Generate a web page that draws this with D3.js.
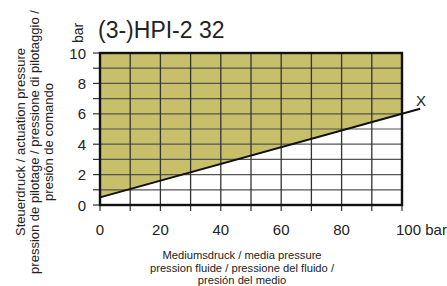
<!DOCTYPE html>
<html>
<head>
<meta charset="utf-8">
<script src="https://cdn.jsdelivr.net/npm/d3@7"></script>
<style>
  body { margin: 0; background: #fff; }
  text { font-family: "Liberation Sans", Arial, sans-serif; fill: #222; }
</style>
</head>
<body>
<svg id="chart" width="447" height="286"></svg>
<script>
// chart values
const title = "(3-)HPI-2 32";
const xTickValues = [0, 20, 40, 60, 80, 100];
const yTickValues = [0, 2, 4, 6, 8, 10];
const xGrid = [10, 20, 30, 40, 50, 60, 70, 80, 90];
const yGrid = [1, 2, 3, 4, 5, 6, 7, 8, 9];
const yMinorTicks = [0, 1, 2, 3, 4, 5, 6, 7, 8, 9, 10];
const xMinorTicks = [0, 10, 20, 30, 40, 50, 60, 70, 80, 90, 100];
// boundary line "X": medium pressure -> actuation pressure
const lineX = [0, 100, 106];
const lineY = [0.5, 6, 6.33];
const yTitleLines = ["Steuerdruck / actuation pressure", "pression de pilotage / pressione di pilotaggio /", "presión de comando"];
const xTitleLines = ["Mediumsdruck / media pressure", "pression fluide / pressione del fluido /", "presión del medio"];

const svg = d3.select("#chart");

const x = d3.scaleLinear().domain([0, 100]).range([100, 402]);
const y = d3.scaleLinear().domain([0, 10]).range([205, 53]);

// shaded area above the line
const fillPts = [[0, 10], [0, lineY[0]], [100, lineY[1]], [100, 10]];
svg.append("path")
    .attr("d", d3.line().x(d => x(d[0])).y(d => y(d[1]))(fillPts) + "Z")
    .attr("fill", "#c7bf6a");

// grid
svg.append("g").selectAll("line")
    .data(yGrid)
    .join("line")
    .attr("x1", x(0)).attr("x2", x(100))
    .attr("y1", d => y(d)).attr("y2", d => y(d))
    .attr("stroke", "#555").attr("stroke-width", 1.2);

svg.append("g").selectAll("line")
    .data(xGrid)
    .join("line")
    .attr("y1", y(0)).attr("y2", y(10))
    .attr("x1", d => x(d)).attr("x2", d => x(d))
    .attr("stroke", "#333").attr("stroke-width", 1.3);

// y ticks (every bar)
svg.append("g").selectAll("line")
    .data(yMinorTicks)
    .join("line")
    .attr("x1", x(0) - 7).attr("x2", x(0))
    .attr("y1", d => y(d)).attr("y2", d => y(d))
    .attr("stroke", "#333").attr("stroke-width", 1.2);

// x ticks
svg.append("g").selectAll("line")
    .data(xMinorTicks)
    .join("line")
    .attr("y1", y(0)).attr("y2", y(0) + 6)
    .attr("x1", d => x(d)).attr("x2", d => x(d))
    .attr("stroke", "#333").attr("stroke-width", 1.2);

// plot frame
svg.append("rect")
    .attr("x", x(0)).attr("y", y(10))
    .attr("width", x(100) - x(0)).attr("height", y(0) - y(10))
    .attr("fill", "none").attr("stroke", "#111").attr("stroke-width", 2.4);

// boundary line
svg.append("path")
    .attr("d", d3.line().x((d, i) => x(lineX[i])).y(d => y(d))(lineY))
    .attr("fill", "none").attr("stroke", "#111").attr("stroke-width", 2);

svg.append("text")
    .attr("x", x(106) + 1).attr("y", y(6.33) - 3)
    .attr("text-anchor", "middle")
    .attr("font-size", 15)
    .text("X");

// tick labels
svg.append("g").selectAll("text")
    .data(yTickValues)
    .join("text")
    .attr("x", 86).attr("y", d => y(d) + 5.5)
    .attr("text-anchor", "end")
    .attr("font-size", 15)
    .text(d => d);

svg.append("g").selectAll("text")
    .data(xTickValues)
    .join("text")
    .attr("x", d => x(d)).attr("y", 235)
    .attr("text-anchor", d => d === 100 ? "start" : "middle")
    .attr("dx", d => d === 100 ? -6 : 0)
    .attr("font-size", 15)
    .text(d => d === 100 ? "100 bar" : d);

// title and unit
svg.append("text")
    .attr("x", 98).attr("y", 38)
    .attr("font-size", 23)
    .text(title);

svg.append("text")
    .attr("transform", "translate(83,43) rotate(-90)")
    .attr("font-size", 14)
    .text("bar");

// y axis title
svg.append("g").selectAll("text")
    .data(yTitleLines)
    .join("text")
    .attr("transform", (d, i) => `translate(${25 + i * 14},142) rotate(-90)`)
    .attr("text-anchor", "middle")
    .attr("font-size", 13)
    .text(d => d);

// x axis title
svg.append("g").selectAll("text")
    .data(xTitleLines)
    .join("text")
    .attr("x", 242).attr("y", (d, i) => 259 + i * 12.5)
    .attr("text-anchor", "middle")
    .attr("font-size", 11.2)
    .text(d => d);
</script>
</body>
</html>
